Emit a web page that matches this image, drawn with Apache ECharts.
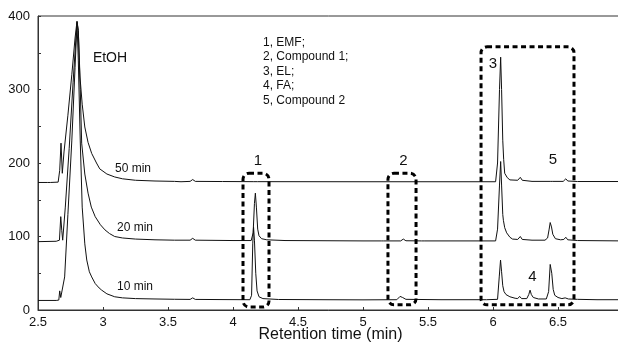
<!DOCTYPE html>
<html>
<head>
<meta charset="utf-8">
<script src="https://cdn.jsdelivr.net/npm/echarts@6/dist/echarts.min.js"></script>
<style>
  html, body { margin: 0; padding: 0; background: #fff; }
  #main { width: 618px; height: 345px; }
</style>
</head>
<body>
<div id="main"></div>
<script>
// 色谱数据: [保留时间(min), 信号]
var t10 = [
  [2.50,13],[2.64,13],[2.66,13.5],[2.667,26],[2.675,17],[2.69,16],[2.705,45],[2.73,130],[2.76,230],[2.785,330],[2.80,390],
  [2.81,340],[2.825,230],[2.84,140],[2.86,90],[2.875,68],[2.895,52],[2.913,45],[2.94,36],[2.97,30],[2.99,27],[3.03,22],
  [3.09,18],[3.15,16.5],[3.25,15.5],[3.40,15],[3.55,14.6],[3.67,14.4],[3.69,16.5],[3.71,14.4],[3.90,14.2],[4.13,14],
  [4.143,20],[4.152,90],[4.158,113],[4.165,95],[4.175,50],[4.185,26],[4.20,18],[4.23,15.5],[4.35,14.3],[4.70,14],[5.00,13.8],
  [5.26,14],[5.285,18.5],[5.305,17],[5.33,14.5],[5.60,14],[5.95,14],[6.035,14.5],[6.048,45],[6.058,68],[6.066,52],[6.075,33],
  [6.085,25],[6.10,21],[6.13,18],[6.17,16],[6.19,15.5],[6.205,18.5],[6.22,15.5],[6.26,15.5],[6.275,21],[6.285,27],[6.295,21],
  [6.31,17],[6.35,15],[6.41,15],[6.428,25],[6.44,62],[6.452,50],[6.463,28],[6.475,20],[6.50,17],[6.53,15.5],[6.555,16.5],
  [6.58,15],[6.65,14.5],[6.80,14],[7.00,14]
];
var t20 = [
  [2.50,93],[2.64,93.5],[2.665,95],[2.675,127],[2.683,108],[2.69,95],[2.71,140],[2.74,220],[2.77,310],[2.80,392],[2.81,380],
  [2.825,300],[2.836,227],[2.86,185],[2.885,159],[2.91,140],[2.94,127],[2.98,116],[2.99,115.5],[3.015,109],[3.05,104],
  [3.09,100],[3.15,98],[3.25,96.5],[3.40,95.5],[3.55,95],[3.67,95],[3.69,97.5],[3.71,95],[4.00,94.5],[4.14,94.5],[4.155,105],
  [4.165,145],[4.172,159],[4.18,140],[4.19,110],[4.20,101],[4.22,97],[4.26,95.5],[4.40,94.5],[5.00,94],[5.14,94],[5.15,95.2],
  [5.16,94],[5.29,94],[5.31,96.5],[5.33,94.2],[5.45,94],[5.46,95],[5.47,94],[6.02,94],[6.035,110],[6.05,170],[6.059,202],
  [6.066,170],[6.075,130],[6.08,122],[6.09,112],[6.105,105],[6.13,99],[6.15,96.5],[6.19,96],[6.21,100],[6.225,96],[6.30,95],
  [6.40,95],[6.42,98],[6.432,110],[6.44,119],[6.45,113],[6.46,103],[6.48,97],[6.52,95.5],[6.545,96],[6.56,99],[6.575,95.5],
  [6.65,94.5],[7.00,94]
];
var t50 = [
  [2.50,173.5],[2.575,173.5],[2.585,175.5],[2.595,173.5],[2.655,174],[2.667,190],[2.677,227],[2.687,186],[2.70,215],
  [2.73,265],[2.76,320],[2.785,370],[2.80,393],[2.81,380],[2.823,317],[2.84,280],[2.86,249],[2.885,228],[2.913,213],
  [2.95,200],[2.975,192],[2.985,192.5],[2.99,190],[3.03,185],[3.09,181],[3.15,178.5],[3.25,176.5],[3.40,175.5],[3.55,175],
  [3.60,174.5],[3.61,175],[3.67,175],[3.69,177.5],[3.71,175],[3.90,174.8],[3.91,175.8],[3.92,174.8],[4.16,174.6],[4.175,177],
  [4.19,174.6],[5.00,174.5],[6.02,174.5],[6.035,200],[6.05,300],[6.059,344],[6.066,300],[6.075,231],[6.082,205],[6.09,186],
  [6.11,180],[6.13,177],[6.19,176.5],[6.21,180.5],[6.225,176.5],[6.30,175],[6.44,175],[6.45,176],[6.46,175],[6.54,175],
  [6.56,178.5],[6.575,175.5],[6.65,174.8],[7.00,174.8]
];
var seriesNames = ['10 min', '20 min', '50 min'];
var peakLegend = ['1, EMF;', '2, Compound 1;', '3, EL;', '4, FA;', '5, Compound 2'];

var font = 'Liberation Sans, Arial, sans-serif';

var myChart = echarts.init(document.getElementById('main'));

function lineSeries(name, data) {
  return {
    name: name,
    type: 'line',
    data: data,
    showSymbol: false,
    symbol: 'none',
    lineStyle: { color: '#111', width: 1 },
    animation: false
  };
}

var option = {
  animation: false,
  grid: {
    left: 38, right: -5, top: 16, bottom: 35,
    outerBoundsMode: 'none',
    containLabel: false,
    show: true, borderColor: '#333', borderWidth: 1, backgroundColor: 'transparent'
  },
  xAxis: {
    type: 'value',
    min: 2.5, max: 7, interval: 0.5,
    name: 'Retention time (min)',
    nameLocation: 'middle',
    nameGap: 17,
    nameMoveOverlap: false,
    nameTextStyle: { fontFamily: font, fontSize: 16, color: '#111' },
    axisLine: { lineStyle: { color: '#333' } },
    axisTick: { inside: true, length: 3, lineStyle: { color: '#333' } },
    axisLabel: { fontFamily: font, fontSize: 13, color: '#111', margin: 6 },
    splitLine: { show: false }
  },
  yAxis: {
    type: 'value',
    min: 0, max: 400, interval: 50,
    axisLine: { show: true, lineStyle: { color: '#333' } },
    axisTick: { show: true, inside: true, length: 3, lineStyle: { color: '#333' } },
    axisLabel: {
      fontFamily: font, fontSize: 13, color: '#111', margin: 8,
      formatter: function (v) { return v % 100 === 0 ? v : ''; }
    },
    splitLine: { show: false }
  },
  series: [
    lineSeries(seriesNames[0], t10),
    lineSeries(seriesNames[1], t20),
    lineSeries(seriesNames[2], t50)
  ]
};
myChart.setOption(option);

// 虚线框 (数据坐标)
var boxes = [
  [4.077, 186, 4.277, 4],
  [5.192, 186, 5.408, 7],
  [5.908, 358, 6.623, 7]
];
// 文字标注 (像素位置)
var texts = [
  { t: 'EtOH', x: 110, y: 58, size: 14 },
  { t: seriesNames[2], x: 133, y: 168.5, size: 12 },
  { t: seriesNames[1], x: 135, y: 228, size: 12 },
  { t: seriesNames[0], x: 135, y: 287, size: 12 },
  { t: '1', x: 258, y: 160.5, size: 15 },
  { t: '2', x: 403.5, y: 160.5, size: 15 },
  { t: '3', x: 493, y: 63.5, size: 15 },
  { t: '4', x: 532.5, y: 276.5, size: 15 },
  { t: '5', x: 553, y: 160, size: 15 }
];

var graphics = [];
boxes.forEach(function (b) {
  var p1 = myChart.convertToPixel({ gridIndex: 0 }, [b[0], b[1]]);
  var p2 = myChart.convertToPixel({ gridIndex: 0 }, [b[2], b[3]]);
  graphics.push({
    type: 'rect',
    shape: { x: p1[0], y: p1[1], width: p2[0] - p1[0], height: p2[1] - p1[1], r: 6 },
    style: { fill: null, stroke: '#000', lineWidth: 3, lineDash: [5, 3.5] },
    z: 10
  });
});
texts.forEach(function (o) {
  graphics.push({
    type: 'text',
    x: o.x, y: o.y,
    style: {
      text: o.t, fill: '#111', fontFamily: font, fontSize: o.size,
      textAlign: 'center', textVerticalAlign: 'middle', verticalAlign: 'middle'
    },
    z: 11
  });
});
graphics.push({
  type: 'text',
  x: 263, y: 35,
  style: {
    text: peakLegend.join('\n'), fill: '#111', fontFamily: font, fontSize: 12,
    lineHeight: 14.5, textAlign: 'left', textVerticalAlign: 'top', verticalAlign: 'top'
  },
  z: 11
});
myChart.setOption({ graphic: graphics });
</script>
</body>
</html>
